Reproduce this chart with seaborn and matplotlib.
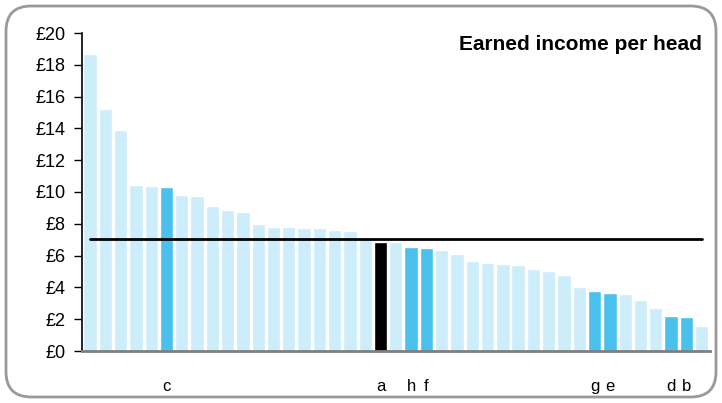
import matplotlib
matplotlib.use("Agg")
import matplotlib.pyplot as plt
import seaborn as sns
import pandas as pd
from matplotlib.patches import FancyBboxPatch

# --- data ---
income = [18.68, 15.22, 13.90, 10.44, 10.38, 10.31, 9.81, 9.75, 9.12, 8.87,
          8.74, 7.99, 7.80, 7.80, 7.74, 7.74, 7.61, 7.55, 7.05, 6.86,
          6.86, 6.54, 6.48, 6.35, 6.10, 5.66, 5.53, 5.47, 5.41, 5.16,
          5.03, 4.78, 4.03, 3.77, 3.65, 3.58, 3.21, 2.70, 2.20, 2.14, 1.57]
labels = ["", "", "", "", "", "c", "", "", "", "",
          "", "", "", "", "", "", "", "", "", "a",
          "", "h", "f", "", "", "", "", "", "", "",
          "", "", "", "g", "e", "", "", "", "d", "b", ""]
group = ["other"] * len(income)
for i, lab in enumerate(labels):
    if lab == "a":
        group[i] = "a"
    elif lab:
        group[i] = "marked"
average = 7.04
y_ticks = list(range(0, 21, 2))
title = "Earned income per head"

palette = {"other": "#CCEDF9", "marked": "#49C1EC", "a": "#000000"}

df = pd.DataFrame({"rank": range(len(income)), "income": income, "group": group})

sns.set_style("white")
plt.rcParams["font.family"] = ["Liberation Sans", "DejaVu Sans"]
plt.rcParams["text.color"] = "black"
plt.rcParams["xtick.color"] = "black"
plt.rcParams["ytick.color"] = "black"

fig = plt.figure(figsize=(7.22, 4.03), dpi=100)
ax = fig.add_axes([82 / 722, 1 - 351 / 403, 628 / 722, 318 / 403])

sns.barplot(data=df, x="rank", y="income", hue="group", palette=palette,
            dodge=False, legend=False, width=0.87, saturation=1, ax=ax)
ax.plot([0, len(income) - 1], [average, average], color="black", lw=2, zorder=5)

ax.set_xlim(-0.53, len(income) - 0.45)
ax.set_ylim(0, 20)
ax.set_yticks(y_ticks)
ax.set_yticklabels([f"£{v}" for v in y_ticks], fontsize=13)
ax.set_xticks(range(len(income)))
ax.set_xticklabels(labels, fontsize=12)
ax.tick_params(axis="x", length=0, pad=20)
ax.tick_params(axis="y", length=6, width=1, color="black", direction="out", pad=6, left=True)
ax.set_xlabel("")
ax.set_ylabel("")

for s in ["top", "right"]:
    ax.spines[s].set_visible(False)
ax.spines["left"].set_color("black")
ax.spines["left"].set_linewidth(1.2)
ax.spines["bottom"].set_color("#7f7f7f")
ax.spines["bottom"].set_linewidth(2)

ax.text(0.987, 0.995, title, transform=ax.transAxes, ha="right", va="top",
        fontsize=15, fontweight="bold")

# rounded frame round the whole figure
frame = FancyBboxPatch((6 / 722, 6 / 403), 710 / 722, 391 / 403,
                       boxstyle="round,pad=0,rounding_size=0.035",
                       transform=fig.transFigure, fill=False,
                       edgecolor="#999999", lw=2, mutation_aspect=722 / 403)
fig.patches.append(frame)

fig.savefig("out.png", dpi=100)
